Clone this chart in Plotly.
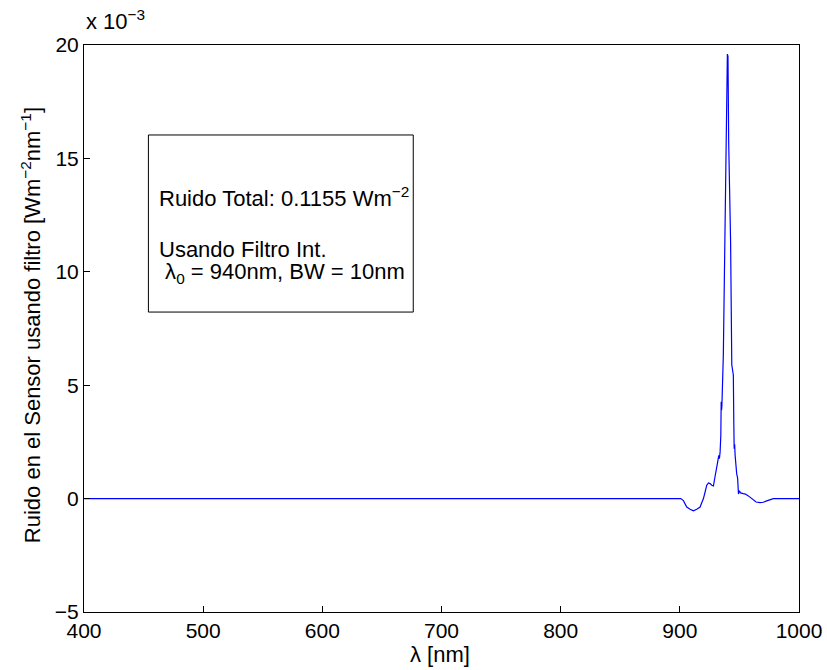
import plotly.graph_objects as go

# wavelength (nm) and noise (x 1e-3 W m^-2 nm^-1)
wavelength = [400, 500, 600, 700, 800, 900, 900.8, 903.0, 905.8, 908.6, 911.4, 914.2, 917.0,
              918.4, 919.8, 921.2, 922.6, 924.0, 925.4, 926.8, 928.2, 929.0, 930.2,
              931.5, 932.7, 933.2, 933.8, 934.4, 934.7, 935.0, 935.3, 936.5, 937.9,
              939.0, 939.4, 939.9, 940.4, 941.0, 941.5, 942.2, 942.6, 943.6, 944.9,
              945.3, 945.6, 946.0, 946.4, 947.0, 947.7, 948.5, 949.2, 950.0, 951.0,
              953.3, 955.0, 957.5, 960.0, 961.7, 964.0, 967.3, 970.0, 972.9, 976.0,
              978.5, 990, 1000]
noise_e3 = [0, 0, 0, 0, 0, 0, 0, -0.09, -0.37, -0.47, -0.54, -0.47, -0.37,
            -0.18, 0.0, 0.29, 0.59, 0.69, 0.66, 0.59, 0.56, 0.81, 1.25,
            1.54, 1.91, 1.76, 2.06, 2.79, 4.27, 3.9, 4.1, 6.32, 11.75,
            14.5, 17.2, 19.6, 19.5, 15.7, 14.35, 13.9, 11.3, 5.9, 5.45,
            3.3, 2.2, 2.4, 1.9, 1.2, 1.1, 0.9, 0.2, 0.35, 0.25,
            0.22, 0.2, 0.12, 0.02, -0.07, -0.15, -0.18, -0.16, -0.1, -0.03,
            0, 0, 0]

x_ticks = [400, 500, 600, 700, 800, 900, 1000]
y_ticks = [-5, 0, 5, 10, 15, 20]

FONT = "Liberation Sans, Arial, Helvetica, sans-serif"
FS = 22
FT = 21

fig = go.Figure()
fig.add_trace(go.Scatter(x=wavelength, y=noise_e3, mode="lines",
                         line=dict(color="#0000ff", width=1.2), showlegend=False))

axis_common = dict(showline=True, linecolor="black", linewidth=1, mirror=True,
                   ticks="inside", ticklen=6, tickcolor="black", showgrid=False,
                   zeroline=False, tickfont=dict(family=FONT, size=FT, color="black"))

fig.update_layout(
    width=827, height=670,
    margin=dict(l=84, r=28, t=45, b=58, autoexpand=False),
    paper_bgcolor="white", plot_bgcolor="white",
    xaxis=dict(range=[400, 1000], tickvals=x_ticks, **axis_common),
    yaxis=dict(range=[-5, 20], tickvals=y_ticks, **axis_common),
    font=dict(family=FONT, size=FS, color="black"),
)

# axis titles
fig.add_annotation(text="λ [nm]", xref="paper", yref="paper", x=0.498, y=-0.0758,
                   xanchor="center", yanchor="middle", showarrow=False,
                   font=dict(family=FONT, size=FS))
fig.add_annotation(text="Ruido en el Sensor usando filtro [Wm<sup>−2</sup>nm<sup>−1</sup>]",
                   xref="paper", yref="paper", x=-0.0748, y=0.505, textangle=-90,
                   xanchor="center", yanchor="middle", showarrow=False,
                   font=dict(family=FONT, size=FS))
fig.add_annotation(text="x 10<sup>−3</sup>", xref="paper", yref="paper", x=0.0, y=1.044,
                   xanchor="left", yanchor="middle", showarrow=False,
                   font=dict(family=FONT, size=FS))

# text box
fig.add_shape(type="rect", xref="paper", yref="paper", x0=0.0901, x1=0.4605,
              y0=0.529, y1=0.8413, line=dict(color="black", width=1), fillcolor="white",
              layer="above")
fig.add_annotation(text="Ruido Total: 0.1155 Wm<sup>−2</sup>", xref="paper", yref="paper",
                   x=0.1027, y=0.732, xanchor="left", yanchor="middle", showarrow=False,
                   font=dict(family=FONT, size=FS))
fig.add_annotation(text="Usando Filtro Int.", xref="paper", yref="paper",
                   x=0.1027, y=0.6400, xanchor="left", yanchor="middle", showarrow=False,
                   font=dict(family=FONT, size=FS))
fig.add_annotation(text=" λ<sub>0</sub> = 940nm, BW = 10nm", xref="paper", yref="paper",
                   x=0.1027, y=0.5980, xanchor="left", yanchor="middle", showarrow=False,
                   font=dict(family=FONT, size=FS))

fig.write_html("out.html")
